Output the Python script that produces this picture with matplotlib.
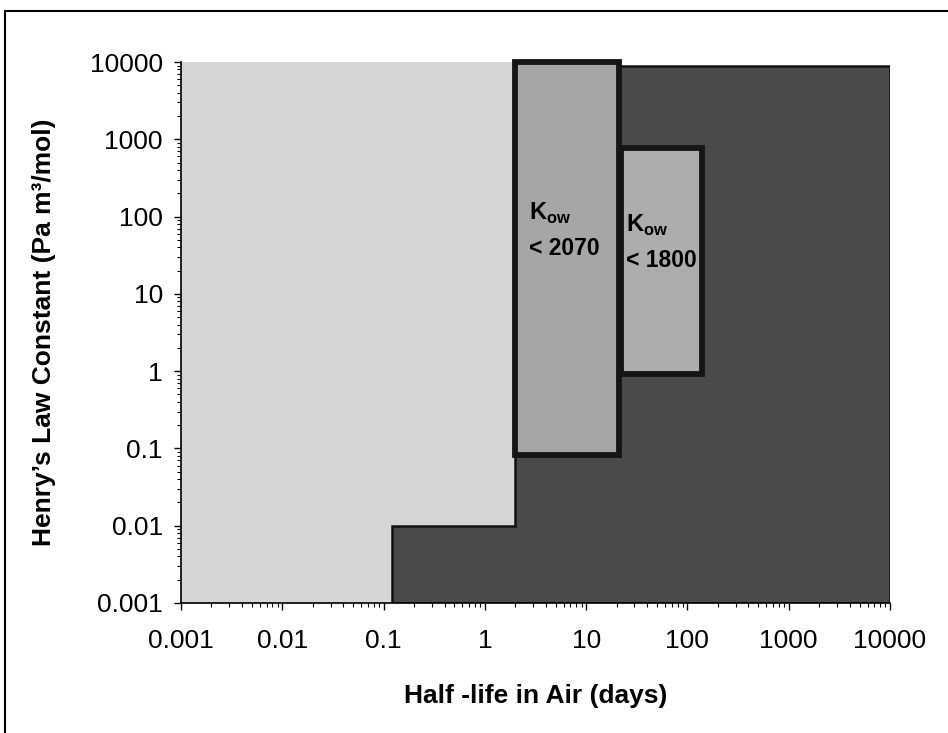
import matplotlib
matplotlib.use("Agg")
import matplotlib.pyplot as plt
from matplotlib.patches import Polygon, Rectangle
from matplotlib.lines import Line2D

plt.rcParams['font.family'] = ['Liberation Sans', 'DejaVu Sans']
plt.rcParams['mathtext.fontset'] = 'custom'
plt.rcParams['mathtext.rm'] = 'Liberation Sans'
plt.rcParams['mathtext.bf'] = 'Liberation Sans:bold'

# Data (log-log domain)
axis_min, axis_max = 0.001, 10000
tick_values = [0.001, 0.01, 0.1, 1, 10, 100, 1000, 10000]
tick_labels = ["0.001", "0.01", "0.1", "1", "10", "100", "1000", "10000"]

light_x = [0.001, 2]
light_y = [0.001, 10000]

dark_step_x = [0.12, 2, 10000]      # step edges
dark_step_top = [0.01, 9000]        # heights of each step

box1_x = [2, 21]
box1_y = [0.082, 10000]
box1_label = ["K", "ow", "< 2070"]

box2_x = [22, 140]
box2_y = [0.92, 770]
box2_label = ["K", "ow", "< 1800"]

fig = plt.figure(figsize=(9.48, 7.33), dpi=100)
ax = fig.add_axes([181/948, 1-603/733, (890-181)/948, (603-62)/733])
ax.set_xscale('log')
ax.set_yscale('log')
ax.set_xlim(axis_min, axis_max)
ax.set_ylim(axis_min, axis_max)

# light background region
ax.add_patch(Rectangle((light_x[0], light_y[0]), light_x[1]-light_x[0], light_y[1]-light_y[0],
                       facecolor='#d6d6d6', edgecolor='none', zorder=1))
# dark stepped region
verts = [(dark_step_x[0], axis_min)]
for i in range(len(dark_step_top)):
    verts.append((dark_step_x[i], dark_step_top[i]))
    verts.append((dark_step_x[i+1], dark_step_top[i]))
verts.append((dark_step_x[-1], axis_min))
ax.add_patch(Polygon(verts, closed=True, facecolor='#4a4a4a', edgecolor='#111111',
                     linewidth=1.8, zorder=2))

# boxes
ax.add_patch(Rectangle((box1_x[0], box1_y[0]), box1_x[1]-box1_x[0], box1_y[1]-box1_y[0],
                       facecolor='#a6a6a6', edgecolor='#151515', linewidth=4.2, zorder=3,
                       clip_on=False))
ax.add_patch(Rectangle((box2_x[0], box2_y[0]), box2_x[1]-box2_x[0], box2_y[1]-box2_y[0],
                       facecolor='#adadad', edgecolor='#151515', linewidth=4.2, zorder=3))

# labels inside boxes
def box_text(x, yk, ynum, parts):
    ax.text(x, yk, r"$\mathbf{%s}_{\mathbf{%s}}$" % (parts[0], parts[1]), fontsize=17,
            ha='left', va='baseline', color='black', zorder=5)
    ax.text(x, ynum, parts[2], fontsize=16.5, fontweight='bold', ha='left', va='baseline',
            color='black', zorder=5)

box_text(2.7, 90, 32, box1_label)
box_text(24.5, 63, 22, box2_label)

ax.set_xticks(tick_values)
ax.set_xticklabels(tick_labels)
ax.set_yticks(tick_values)
ax.set_yticklabels(tick_labels)
ax.tick_params(axis='both', which='major', labelsize=19, length=5, width=1, direction='out',
               color='black')
ax.tick_params(axis='both', which='minor', length=3, width=0.8, direction='out')
ax.tick_params(axis='x', which='major', pad=14)
ax.tick_params(axis='y', which='major', pad=8)
for s in ['top', 'right']:
    ax.spines[s].set_visible(False)
ax.spines['left'].set_linewidth(1.2)
ax.spines['bottom'].set_linewidth(1.2)

ax.set_xlabel("Half -life in Air (days)", fontsize=19, fontweight='bold', labelpad=22)
ax.set_ylabel("Henry\u2019s Law Constant (Pa m\u00b3/mol)", fontsize=19, fontweight='bold',
              labelpad=24)

# outer frame lines
fig.add_artist(Line2D([5/948, 1.0], [1-11/733, 1-11/733], color='black', linewidth=1.5,
                      transform=fig.transFigure))
fig.add_artist(Line2D([5/948, 5/948], [0.0, 1-11/733], color='black', linewidth=1.5,
                      transform=fig.transFigure))

fig.savefig("out.png", dpi=100, facecolor='white')
